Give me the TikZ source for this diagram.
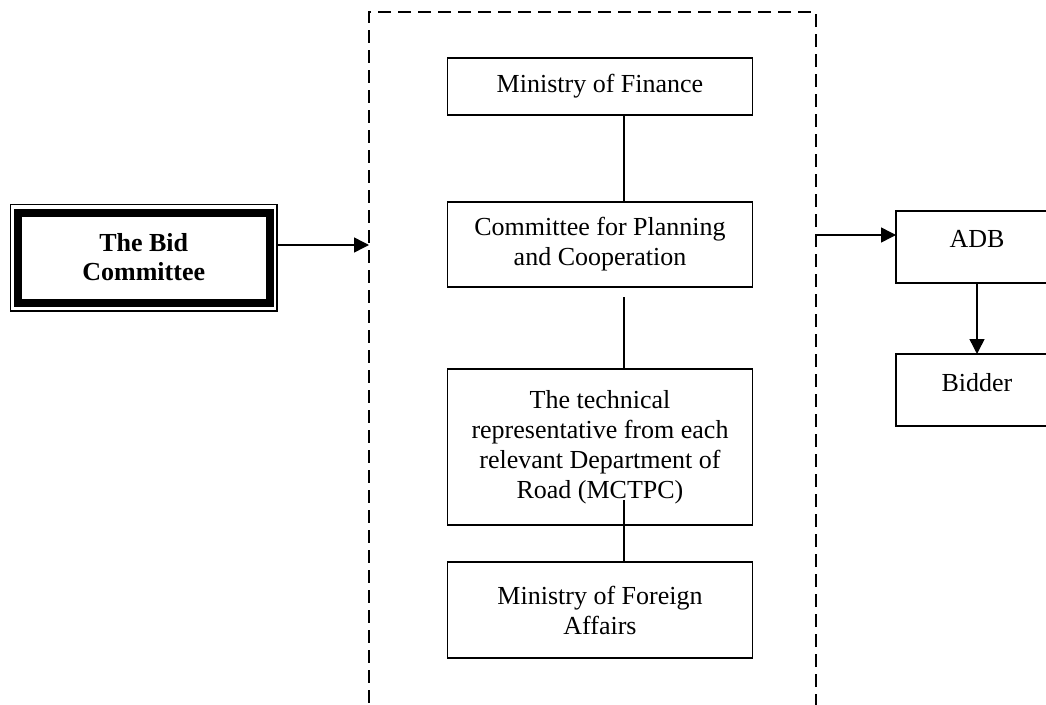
\documentclass[tikz,border=0pt]{standalone}
\usepackage{fontspec}
\setmainfont{Liberation Serif}
\usepackage{tikz}
\usetikzlibrary{arrows.meta,positioning,calc}
\tikzstyle{block}=[draw,line width=1.5pt,minimum width=305pt,align=center,inner sep=0pt,outer sep=0pt,font=\fontsize{26}{30}\selectfont]
\tikzstyle{sidebox}=[block,minimum width=162pt,minimum height=72pt,text depth=16pt]
\tikzstyle{link}=[line width=1.5pt]
\tikzstyle{arr}=[line width=1.5pt,-{Triangle[length=15pt,width=15pt]}]

\begin{document}
\begin{tikzpicture}[x=1pt,y=-1pt]
\useasboundingbox (0,0) rectangle (1046,704);
% dashed frame
\node [draw,line width=1.5pt,dash pattern=on 13pt off 7pt,minimum width=447pt,minimum height=708pt,inner sep=0pt,outer sep=0pt] (frame) at (592.5,366) {};
% middle column
\node [block,minimum height=57pt] (mof) at (600,86.5) {Ministry of Finance};
\node [block,minimum height=85pt,below=87pt of mof] (cpc) {Committee for Planning\\and Cooperation};
\node [block,minimum height=156pt,below=82pt of cpc] (tech) {The technical\\representative from each\\relevant Department of\\Road (MCTPC)};
\node [block,minimum height=96pt,below=37pt of tech] (mfa) {Ministry of Foreign\\Affairs};
\coordinate (spine) at (624,0);
\draw [link] (mof.south -| spine) -- (cpc.north -| spine);
\draw [link] ([yshift=-10pt]cpc.south -| spine) -- (tech.north -| spine);
\draw [link] ([yshift=25pt]tech.south -| spine) -- (mfa.north -| spine);
% bid committee
\node [draw,line width=8pt,minimum width=252.5pt,minimum height=90pt,align=center,inner sep=0pt,outer sep=0pt,font=\bfseries\fontsize{26}{29}\selectfont] (bid) at (143.75,257.5) {The Bid\\Committee};
\draw [line width=1.2pt] ([shift={(-7pt,8pt)}]bid.north west) rectangle ([shift={(7pt,-8.5pt)}]bid.south east);
\draw [arr] ([xshift=7pt,yshift=12.5pt]bid.east) coordinate (b1) -- (b1 -| frame.west);
% right side
\node [sidebox] (adb) at (977,247) {ADB};
\node [sidebox,below=71pt of adb] (bidder) {Bidder};
\coordinate (a1) at ([yshift=12pt]adb.west);
\draw [arr] (frame.east |- a1) -- (a1);
\draw [arr] (adb) -- (bidder);
\end{tikzpicture}
\end{document}
